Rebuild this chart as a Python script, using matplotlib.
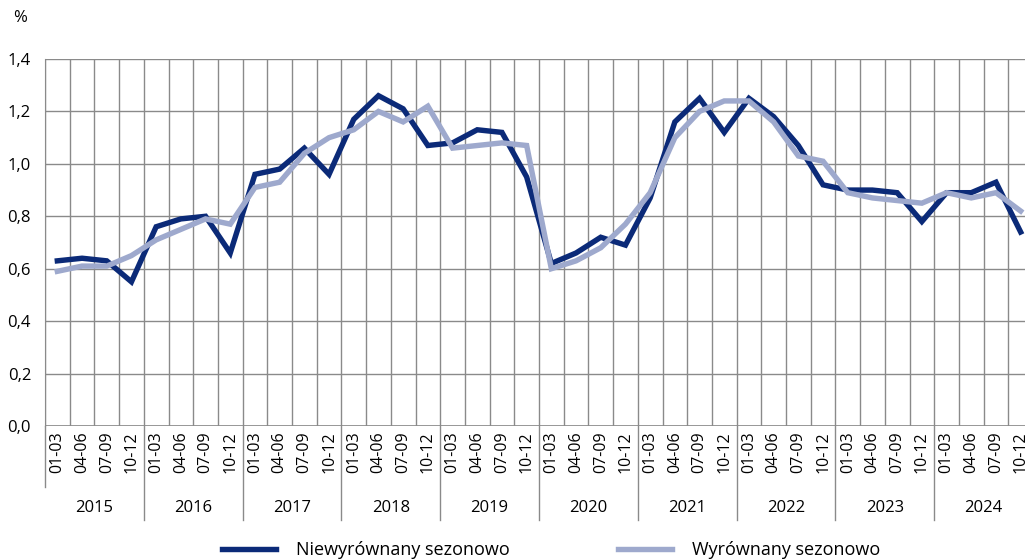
import matplotlib
matplotlib.use("Agg")
import matplotlib.pyplot as plt
import matplotlib.transforms as mtransforms
import numpy as np

years = ["2015", "2016", "2017", "2018", "2019", "2020", "2021", "2022", "2023", "2024"]
quarters = ["01-03", "04-06", "07-09", "10-12"]

# niewyrównany sezonowo
unadjusted = [0.63, 0.64, 0.63, 0.55,
              0.76, 0.79, 0.80, 0.66,
              0.96, 0.98, 1.06, 0.96,
              1.17, 1.26, 1.21, 1.07,
              1.08, 1.13, 1.12, 0.95,
              0.62, 0.66, 0.72, 0.69,
              0.87, 1.16, 1.25, 1.12,
              1.25, 1.18, 1.07, 0.92,
              0.90, 0.90, 0.89, 0.78,
              0.89, 0.89, 0.93, 0.74]

# wyrównany sezonowo
adjusted = [0.59, 0.61, 0.61, 0.65,
            0.71, 0.75, 0.79, 0.77,
            0.91, 0.93, 1.04, 1.10,
            1.13, 1.20, 1.16, 1.22,
            1.06, 1.07, 1.08, 1.07,
            0.60, 0.63, 0.68, 0.77,
            0.89, 1.10, 1.20, 1.24,
            1.24, 1.16, 1.03, 1.01,
            0.89, 0.87, 0.86, 0.85,
            0.89, 0.87, 0.89, 0.82]

y_ticks = [0.0, 0.2, 0.4, 0.6, 0.8, 1.0, 1.2, 1.4]

dark = "#0b2a78"
light = "#9ea9cd"
grid_col = "#8a8a8a"

plt.rcParams['font.family'] = ['Open Sans', 'DejaVu Sans']

W, H = 1025, 560
fig = plt.figure(figsize=(W / 100, H / 100), dpi=100)
ax_left, ax_right, ax_top, ax_bottom = 45, 1033, 59, 426
ax = fig.add_axes([ax_left / W, 1 - ax_bottom / H,
                   (ax_right - ax_left) / W, (ax_bottom - ax_top) / H])

n = len(unadjusted)
x = np.arange(n)
labels = [q for _ in years for q in quarters]

ax.plot(x, unadjusted, color=dark, lw=3.9, solid_joinstyle='miter', zorder=3,
        label="Niewyrównany sezonowo")
ax.plot(x, adjusted, color=light, lw=3.9, solid_joinstyle='miter', zorder=4,
        label="Wyrównany sezonowo")

ax.set_xlim(-0.5, n - 0.5)
ax.set_ylim(0, 1.4)
ax.set_yticks(y_ticks)
ax.set_yticklabels([f"{v:.1f}".replace(".", ",") for v in y_ticks], fontsize=12)
ax.set_xticks(x)
ax.set_xticklabels(labels, rotation=90, fontsize=11.5)
ax.set_xticks(np.arange(-0.5, n, 1), minor=True)
ax.tick_params(axis='x', which='both', length=0, pad=4)
ax.tick_params(axis='y', length=0, pad=10)

ax.grid(which='minor', axis='x', color=grid_col, lw=1)
ax.grid(which='major', axis='y', color=grid_col, lw=1)
ax.set_axisbelow(True)
for s in ['top', 'right', 'bottom']:
    ax.spines[s].set_visible(False)
ax.spines['left'].set_color(grid_col)
ax.axhline(0, color=grid_col, lw=1.2, zorder=2)

# year separators and labels below axis
trans = mtransforms.blended_transform_factory(ax.transData, ax.transAxes)
sep_low = (ax_bottom - 520) / (ax_bottom - ax_top)
left_low = (ax_bottom - 487) / (ax_bottom - ax_top)
year_y = (ax_bottom - 508) / (ax_bottom - ax_top)
ax.plot([-0.5, -0.5], [0, left_low], transform=trans, color=grid_col, lw=1, clip_on=False)
for i, yr in enumerate(years):
    ax.text(i * 4 + 1.5, year_y, yr, transform=trans, ha='center', va='center', fontsize=12)
    if i > 0:
        ax.plot([i * 4 - 0.5] * 2, [0, sep_low], transform=trans, color=grid_col, lw=1,
                clip_on=False)

fig.text(20 / W, 1 - 18 / H, "%", ha='center', va='center', fontsize=12)

fig.legend(loc='center left', bbox_to_anchor=(222 / W, 10 / H), ncol=2, frameon=False,
           fontsize=13, handlelength=3.0, handletextpad=1.1, columnspacing=6.0,
           borderpad=0, borderaxespad=0)

fig.savefig("out.png", dpi=100)
